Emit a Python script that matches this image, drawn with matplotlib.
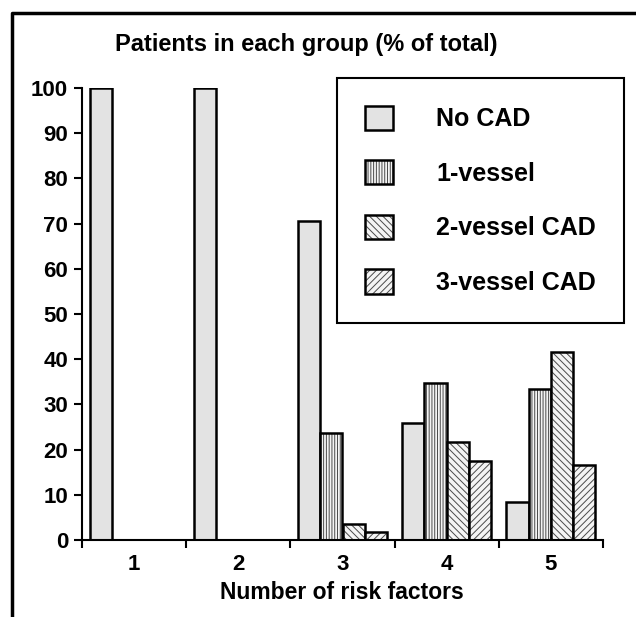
import matplotlib
matplotlib.use("Agg")
import matplotlib.pyplot as plt
import numpy as np
from matplotlib.lines import Line2D

plt.rcParams['font.family'] = ['Liberation Sans', 'DejaVu Sans']
plt.rcParams['font.weight'] = 'bold'
plt.rcParams['hatch.linewidth'] = 0.7

categories = ['1', '2', '3', '4', '5']
series_names = ['No CAD', '1-vessel', '2-vessel CAD', '3-vessel CAD']
no_cad = [100, 100, 70.5, 25.8, 8.3]
one_vessel = [0, 0, 23.6, 34.7, 33.3]
two_vessel = [0, 0, 3.5, 21.7, 41.7]
three_vessel = [0, 0, 1.8, 17.5, 16.7]
yticks = [0, 10, 20, 30, 40, 50, 60, 70, 80, 90, 100]

series = [no_cad, one_vessel, two_vessel, three_vessel]
faces = ['#e3e3e3', '#f4f4f4', '#f4f4f4', '#f4f4f4']
hatches = [None, '||||||', '\\\\\\\\\\', '/////']
hatch_col = '#4a4a4a'

fig = plt.figure(figsize=(6.36, 6.17), dpi=100)
ax = fig.add_axes([82/636, 1-540/617, (603-82)/636, (540-88)/617])

x = np.arange(1, len(categories)+1)
w = 0.214
handles = []
for i, vals in enumerate(series):
    pos = x - 1.5*w + i*w
    v = np.array(vals, dtype=float)
    mask = v > 0
    b1 = ax.bar(pos[mask], v[mask], width=w, facecolor=faces[i],
                edgecolor=hatch_col, linewidth=0, hatch=hatches[i])
    b2 = ax.bar(pos[mask], v[mask], width=w, facecolor='none',
                edgecolor='black', linewidth=1.8)
    handles.append((b1[0], b2[0]))

ax.set_xlim(0.5, 5.5)
ax.set_ylim(0, 100)
ax.set_yticks(yticks)
ax.set_yticklabels([str(t) for t in yticks], fontsize=16, fontweight='bold')
ax.set_xticks(np.arange(0.5, 6.0, 1.0))
ax.set_xticklabels([])
ax.set_xticks(x, minor=True)
ax.set_xticklabels(categories, minor=True, fontsize=16, fontweight='bold')
ax.tick_params(axis='x', which='major', length=6, width=1.5, direction='out')
ax.tick_params(axis='x', which='minor', length=0, pad=10)
ax.tick_params(axis='y', length=6, width=1.5, direction='out', pad=4)
for s in ['top', 'right']:
    ax.spines[s].set_visible(False)
for s in ['left', 'bottom']:
    ax.spines[s].set_linewidth(1.5)

fig.text(342/636, 1-599/617, 'Number of risk factors', ha='center', va='baseline',
         fontsize=16.5, fontweight='bold')

leg = ax.legend(handles=handles, labels=series_names, loc='upper left',
                bbox_to_anchor=(337/636, 1-78/617), bbox_transform=fig.transFigure,
                fontsize=18, frameon=True, fancybox=False, framealpha=1,
                edgecolor='black', handlelength=1.12, handleheight=1.12,
                handletextpad=1.75, labelspacing=1.16, borderpad=1.1, borderaxespad=0)
leg.get_frame().set_linewidth(1.5)
for t in leg.get_texts():
    t.set_fontweight('bold')

fig.text(306/636, 1-51/617, 'Patients in each group (% of total)', ha='center', va='baseline',
         fontsize=17, fontweight='bold')

fig.add_artist(Line2D([12/636, 12/636, 1.0], [0, 1-13/617, 1-13/617],
                      transform=fig.transFigure, color='black', linewidth=2.5))

fig.savefig('out.png', dpi=100)
